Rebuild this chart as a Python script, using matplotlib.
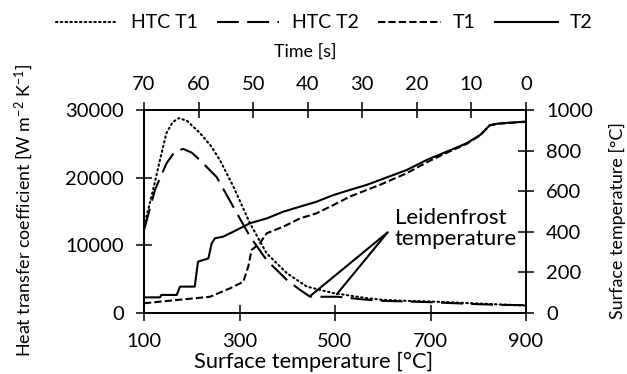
import matplotlib
matplotlib.use("Agg")
import matplotlib.pyplot as plt

# HTC curves: surface temperature [C] vs heat transfer coefficient
htc1_temp = [100, 105, 119, 133, 147, 160, 173, 190, 217, 240, 259, 287, 322, 357,
             399, 441, 496, 566, 600, 650, 700, 750, 800, 850, 900]
htc1_val = [12800, 14200, 18200, 22500, 26600, 28200, 28800, 28400, 26600, 24700,
            22600, 18700, 13250, 8800, 5900, 3900, 2950, 2200, 1950, 1800, 1700,
            1550, 1400, 1250, 1100]

htc2_temp = [100, 102, 123, 147, 165, 182, 200, 217, 252, 287, 322, 357, 399, 425,
             447, 460, 505, 520, 560, 600, 650, 700, 750, 800, 850, 900]
htc2_val = [12300, 12750, 18200, 22100, 23900, 24250, 23700, 22600, 20100, 15700,
            11300, 7800, 4900, 3500, 2450, 2400, 2400, 2300, 2000, 1800, 1700, 1600,
            1450, 1300, 1200, 1150]

# surface temperature vs time
t1_time = [70, 64.0, 57.9, 54.2, 51.8, 50.9, 50.3, 48.8, 47.5, 44.5, 41.4, 38.4,
           35.3, 32.3, 29.2, 26.8, 21.9, 18.2, 14.5, 10.9, 8.4, 6.6, 4.8, 0]
t1_temp = [48, 64, 80, 122, 154, 228, 310, 343, 393, 425, 466, 491, 532, 573, 606,
           631, 688, 742, 790, 833, 875, 925, 933, 942]

t2_time = [70, 67.1, 66.8, 64.0, 63.4, 60.7, 60.1, 58.2, 57.6, 57.0, 55.5, 53.6,
           50.6, 47.5, 44.5, 41.4, 38.4, 35.3, 32.3, 29.2, 26.8, 21.9, 18.2, 14.5,
           10.9, 8.4, 6.6, 4.8, 0]
t2_temp = [77, 77, 89, 89, 130, 130, 253, 269, 343, 368, 376, 401, 442, 466, 499,
           524, 548, 581, 606, 631, 655, 704, 754, 795, 836, 877, 926, 934, 943]

# Leidenfrost points (surface temperature, HTC) and label anchor
leid_pts = [(447, 2450), (504, 2800)]
leid_apex = (610, 11900)

plt.rcParams['font.family'] = ['Lato', 'DejaVu Sans']
fs_tick = 14.5
fs_lab = 12.9
fs_leg = 14

fig = plt.figure(figsize=(6.27, 3.74), dpi=100)
ax = fig.add_axes([144/627, 1-313/374, 382/627, 203/374])
ax2 = ax.twinx()
ax3 = ax2.twiny()

lw = 1.5
l1, = ax.plot(htc1_temp, htc1_val, color='black', lw=lw, dashes=(0.7, 1.6),
              dash_capstyle='round', label='HTC T1')
l2, = ax.plot(htc2_temp, htc2_val, color='black', lw=lw, dashes=(10.5, 4),
              label='HTC T2')
l3, = ax3.plot(t1_time, t1_temp, color='black', lw=lw, dashes=(3.5, 1.5), label='T1')
l4, = ax3.plot(t2_time, t2_temp, color='black', lw=lw, label='T2')

for p in leid_pts:
    ax.annotate('', xy=p, xytext=leid_apex,
                arrowprops=dict(arrowstyle='-', color='black', lw=1.5,
                                shrinkA=0, shrinkB=0))
ax.text(625, 12500, 'Leidenfrost\ntemperature', fontsize=16, ha='left', va='center',
        linespacing=1.05)

ax.set_xlim(100, 900)
ax.set_ylim(0, 30000)
ax.set_xticks([100, 300, 500, 700, 900])
ax.set_yticks([0, 10000, 20000, 30000])
ax2.set_ylim(0, 1000)
ax2.set_yticks([0, 200, 400, 600, 800, 1000])
ax3.set_xlim(70, 0)
ax3.set_xticks([70, 60, 50, 40, 30, 20, 10, 0])

for a in (ax, ax2, ax3):
    for s in a.spines.values():
        s.set_linewidth(1.1)
    a.tick_params(direction='inout', length=11, width=1.1, labelsize=fs_tick, pad=9)
ax3.tick_params(axis='x', pad=7)

ax.set_xlabel('Surface temperature [°C]', fontsize=15.7, va='center')
ax.xaxis.set_label_coords((314-144)/382, -(362-313)/203)
ax.set_ylabel(r'Heat transfer coefficient [W m$\mathregular{^{-2}}$ K$\mathregular{^{-1}}$]',
              fontsize=fs_lab, va='center')
ax.yaxis.set_label_coords(-(144-24)/382, (313-210)/203)
ax2.set_ylabel('Surface temperature [°C]', fontsize=fs_lab, va='center')
ax2.yaxis.set_label_coords((617-144)/382, (313-221)/203)
ax3.set_xlabel('Time [s]', fontsize=fs_lab, va='center')
ax3.xaxis.set_label_coords((305-144)/382, (313-52)/203)

fig.legend(handles=[l1, l2, l3, l4], loc='center', bbox_to_anchor=(0.5175, 1-23/374),
           ncol=4, frameon=False, fontsize=fs_leg, handlelength=3.2, handletextpad=0.65,
           columnspacing=1.0, borderaxespad=0)

fig.savefig('out.png', dpi=100)
